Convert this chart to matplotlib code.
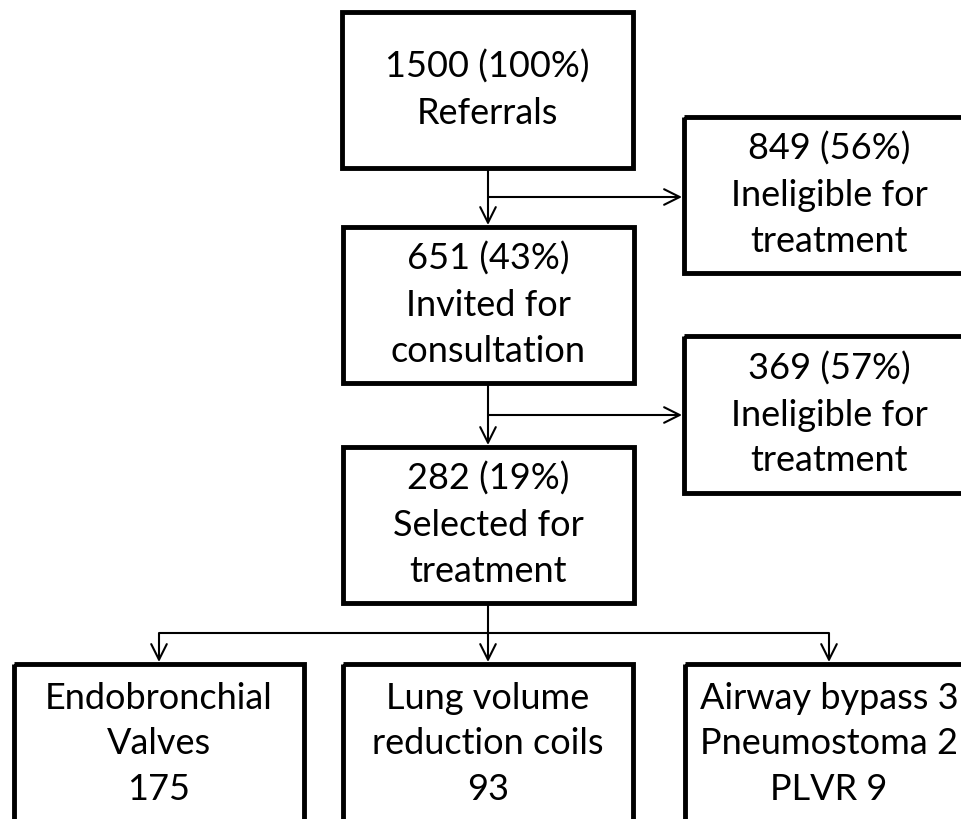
import matplotlib
matplotlib.use("Agg")
import matplotlib.pyplot as plt
from matplotlib.patches import Rectangle

plt.rcParams['font.family'] = ['Lato', 'DejaVu Sans']

# Flow data
stage_counts = [1500, 651, 282]
stage_pcts = [100, 43, 19]
stage_labels = ["Referrals", "Invited for\nconsultation", "Selected for\ntreatment"]
excluded_counts = [849, 369]
excluded_pcts = [56, 57]
excluded_label = "Ineligible for\ntreatment"
treatment_texts = ["Endobronchial\nValves\n175",
                   "Lung volume\nreduction coils\n93",
                   "Airway bypass 3\nPneumostoma 2\nPLVR 9"]

W, H = 962, 819
fig = plt.figure(figsize=(W / 100, H / 100), dpi=100)
ax = fig.add_axes([0, 0, 1, 1])
ax.set_xlim(0, W)
ax.set_ylim(H, 0)
ax.axis('off')

FS = 26
BOX_LW = 3.5
ARR_LW = 1.5
LINESP = 1.48

def box(x0, y0, x1, y1, text, tx=None):
    ax.add_patch(Rectangle((x0, y0), x1 - x0, y1 - y0, fill=False,
                           edgecolor='black', linewidth=BOX_LW, joinstyle='miter'))
    if tx is None:
        tx = (x0 + x1) / 2
    ax.text(tx, (y0 + y1) / 2, text, ha='center', va='center',
            fontsize=FS, linespacing=LINESP, color='black')

def arrow(x0, y0, x1, y1):
    ax.annotate('', xy=(x1, y1), xytext=(x0, y0),
                arrowprops=dict(arrowstyle='->', lw=ARR_LW, color='black',
                                mutation_scale=28, shrinkA=0, shrinkB=0))

def line(xs, ys):
    ax.plot(xs, ys, color='black', lw=ARR_LW, solid_capstyle='butt')

# main column
cx = 488
main_boxes = [(342, 12, 633, 168), (343, 227, 634, 383), (343, 447, 634, 603)]
for (b, n, p, lab) in zip(main_boxes, stage_counts, stage_pcts, stage_labels):
    box(*b, f"{n} ({p}%)\n{lab}")

# excluded boxes
ex_boxes = [(684, 117, 980, 273), (684, 336, 980, 493)]
for b, n, p in zip(ex_boxes, excluded_counts, excluded_pcts):
    box(*b, f"{n} ({p}%)\n{excluded_label}", tx=829)

# arrows between main boxes and to excluded
branch_y = [197, 415]
for i in range(2):
    top = main_boxes[i][3] + 2
    bot = main_boxes[i + 1][1] - 2
    arrow(cx, top, cx, bot)
    arrow(cx, branch_y[i], ex_boxes[i][0] - 2, branch_y[i])

# bottom split
bottom_boxes = [(14, 664, 304, 830), (343, 664, 633, 830), (685, 664, 975, 830)]
split_y = 633
bx = [159, 488, 829]
line([cx, cx], [main_boxes[2][3] + 2, split_y])
line([bx[0], bx[2]], [split_y, split_y])
for x in bx:
    arrow(x, split_y, x, 664 - 2)
for b, t, x in zip(bottom_boxes, treatment_texts, bx):
    ax.add_patch(Rectangle((b[0], b[1]), b[2] - b[0], b[3] - b[1], fill=False,
                           edgecolor='black', linewidth=BOX_LW, joinstyle='miter'))
    ax.text(x, 744, t, ha='center', va='center', fontsize=FS,
            linespacing=LINESP, color='black')

fig.savefig('out.png', dpi=100, facecolor='white')
